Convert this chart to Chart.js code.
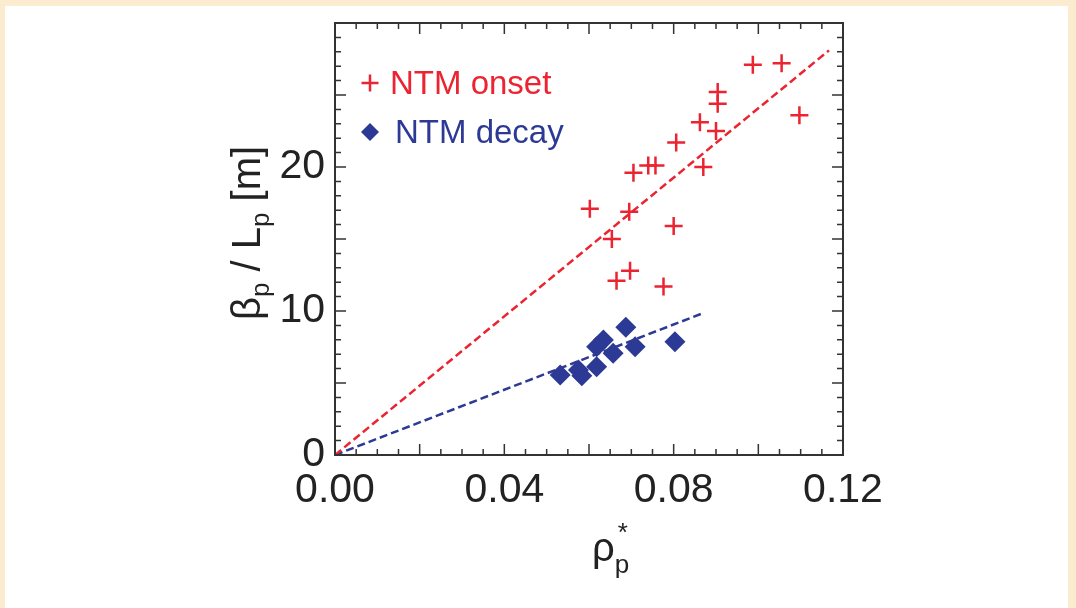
<!DOCTYPE html>
<html>
<head>
<meta charset="utf-8">
<script src="https://cdn.jsdelivr.net/npm/chart.js@4.4.1/dist/chart.umd.min.js"></script>
<style>
  html, body { margin: 0; padding: 0; }
  body { width: 1076px; height: 608px; background: #fbecd0; position: relative; overflow: hidden; }
  #panel { position: absolute; left: 5px; top: 6px; width: 1063px; height: 602px; background: #fff; }
  #wrap { position: absolute; left: 0; top: 0; width: 1076px; height: 608px; }
</style>
</head>
<body>
<div id="panel"></div>
<div id="wrap"><canvas id="chart" width="1076" height="608"></canvas></div>
<script>
// Data
const onsetRho  = [0.0987, 0.1055, 0.0904, 0.0904, 0.1097, 0.0862, 0.0900, 0.0806, 0.0740, 0.0757,
                   0.0705, 0.0870, 0.0602, 0.0695, 0.0800, 0.0654, 0.0697, 0.0665, 0.0776];
const onsetBeta = [27.1, 27.2, 25.2, 24.4, 23.6, 23.1, 22.5, 21.7, 20.1, 20.1,
                   19.6, 20.0, 17.1, 16.9, 15.9, 15.0, 12.8, 12.1, 11.7];

const decayRho  = [0.0687, 0.0803, 0.0709, 0.0634, 0.0618, 0.0657, 0.0618, 0.0575, 0.0583, 0.0532];
const decayBeta = [8.87, 7.87, 7.52, 7.99, 7.52, 7.06, 6.13, 5.90, 5.50, 5.56];

// Linear fits through the origin (end points)
const onsetFitRho  = [0, 0.1167];
const onsetFitBeta = [0, 28.1];
const decayFitRho  = [0, 0.0872];
const decayFitBeta = [0, 9.88];

// Axis ticks
const xTickLabels = [0, 0.04, 0.08, 0.12];
const yTickLabels = [0, 10, 20];

const RED = '#ec2330';
const BLUE = '#2d3a95';
const INK = '#222';
const SANS = "'Liberation Sans', Arial, sans-serif";
const numFont = { family: SANS, size: 41 };

const toPoints = (xs, ys) => xs.map((x, i) => ({ x: x, y: ys[i] }));

// Frame with inward ticks on all four sides
const framePlugin = {
    id: 'frame',
    afterDraw(chart) {
        const { ctx, chartArea: a, scales: { x, y } } = chart;
        ctx.save();
        ctx.strokeStyle = '#333';
        ctx.lineWidth = 2;
        ctx.strokeRect(a.left, a.top, a.right - a.left, a.bottom - a.top);
        ctx.lineWidth = 1.5;
        ctx.beginPath();
        for (let i = 1; i < 24; i++) {
            const px = x.getPixelForValue(i * 0.005);
            const len = i % 4 === 0 ? 11 : 6;
            ctx.moveTo(px, a.bottom); ctx.lineTo(px, a.bottom - len);
            ctx.moveTo(px, a.top); ctx.lineTo(px, a.top + len);
        }
        for (let j = 1; j < 30; j++) {
            const py = y.getPixelForValue(j);
            const len = j % 5 === 0 ? 11 : 6;
            ctx.moveTo(a.left, py); ctx.lineTo(a.left + len, py);
            ctx.moveTo(a.right, py); ctx.lineTo(a.right - len, py);
        }
        ctx.stroke();
        ctx.restore();
    }
};

// Legend inside the frame, top left
const legendPlugin = {
    id: 'insideLegend',
    afterDraw(chart) {
        const { ctx, chartArea: a } = chart;
        const rows = [0, 1].map(i => chart.data.datasets[i]);
        ctx.save();
        ctx.font = '33px ' + SANS;
        ctx.textBaseline = 'alphabetic';
        rows.forEach((ds, i) => {
            const cy = a.top + 60 + i * 49;
            ctx.fillStyle = ds.backgroundColor;
            ctx.strokeStyle = ds.borderColor;
            ctx.lineWidth = 2.5;
            Chart.helpers.drawPoint(ctx, {
                pointStyle: ds.pointStyle,
                radius: i === 0 ? 8.5 : 9,
                borderWidth: i === 0 ? 2.5 : 0,
                rotation: 0
            }, a.left + 35, cy);
            ctx.fillStyle = ds.borderColor;
            ctx.fillText(ds.label, a.left + (i === 0 ? 55 : 60), cy + 11);
        });
        ctx.restore();
    }
};

// Axis titles with sub/superscripts
function drawPieces(ctx, pieces, x0, y0, align) {
    const widths = pieces.map(p => { ctx.font = p.font; return ctx.measureText(p.t).width; });
    const total = widths.reduce((s, w) => s + w, 0);
    let cx = align === 'center' ? x0 - total / 2 : x0;
    pieces.forEach((p, i) => {
        ctx.font = p.font;
        ctx.fillText(p.t, cx + (p.dx || 0), y0 + (p.dy || 0));
        cx += p.adv === undefined ? widths[i] : p.adv;
    });
}

const titlePlugin = {
    id: 'axisTitles',
    afterDraw(chart) {
        const { ctx, chartArea: a } = chart;
        const big = '40px ' + SANS;
        const small = '26px ' + SANS;
        ctx.save();
        ctx.fillStyle = INK;
        ctx.textBaseline = 'alphabetic';
        // y title: beta_p / L_p [m]
        ctx.translate(a.left - 75, (a.top + a.bottom) / 2 - 6);
        ctx.rotate(-Math.PI / 2);
        drawPieces(ctx, [
            { t: 'β', font: big },
            { t: 'p', font: small, dy: 9 },
            { t: ' / L', font: big },
            { t: 'p', font: small, dy: 9 },
            { t: ' [m]', font: big }
        ], 0, 0, 'center');
        ctx.restore();
        // x title: rho_p^*
        ctx.save();
        ctx.fillStyle = INK;
        ctx.textBaseline = 'alphabetic';
        drawPieces(ctx, [
            { t: 'ρ', font: big },
            { t: 'p', font: small, dy: 12, adv: 0 },
            { t: '*', font: small, dx: 3, dy: -20 }
        ], 592, 561, 'left');
        ctx.restore();
    }
};

new Chart(document.getElementById('chart'), {
    type: 'scatter',
    data: {
        datasets: [
            {
                label: 'NTM onset',
                data: toPoints(onsetRho, onsetBeta),
                pointStyle: 'cross',
                pointRadius: 9,
                pointBorderWidth: 2.5,
                borderWidth: 2.5,
                borderColor: RED,
                backgroundColor: RED,
                order: 1
            },
            {
                label: 'NTM decay',
                data: toPoints(decayRho, decayBeta),
                pointStyle: 'rectRot',
                pointRadius: 10.5,
                borderWidth: 0,
                borderColor: BLUE,
                backgroundColor: BLUE,
                order: 2
            },
            {
                type: 'line',
                label: 'onset fit',
                data: toPoints(onsetFitRho, onsetFitBeta),
                borderColor: RED,
                borderWidth: 2.5,
                borderDash: [8, 4],
                pointRadius: 0,
                fill: false,
                order: 3
            },
            {
                type: 'line',
                label: 'decay fit',
                data: toPoints(decayFitRho, decayFitBeta),
                borderColor: BLUE,
                borderWidth: 2.5,
                borderDash: [8, 4],
                pointRadius: 0,
                fill: false,
                order: 3
            }
        ]
    },
    options: {
        responsive: false,
        devicePixelRatio: 1,
        animation: false,
        layout: { padding: { left: 0, right: 233, top: 23, bottom: 0 } },
        plugins: {
            tooltip: { enabled: false },
            legend: { display: false }
        },
        scales: {
            x: {
                type: 'linear',
                min: 0,
                max: 0.12,
                afterBuildTicks: s => { s.ticks = xTickLabels.map(v => ({ value: v })); },
                afterFit: s => { s.height = 153; s.paddingLeft = 0; s.paddingRight = 0; },
                grid: { display: false, drawTicks: false },
                border: { display: false },
                ticks: {
                    autoSkip: false,
                    maxRotation: 0,
                    padding: 11,
                    color: INK,
                    font: numFont,
                    callback: v => Number(v).toFixed(2)
                }
            },
            y: {
                type: 'linear',
                min: 0,
                max: 30,
                afterBuildTicks: s => { s.ticks = yTickLabels.map(v => ({ value: v })); },
                afterFit: s => { s.width = 335; s.paddingTop = 0; s.paddingBottom = 0; },
                grid: { display: false, drawTicks: false },
                border: { display: false },
                ticks: {
                    autoSkip: false,
                    padding: 10,
                    color: INK,
                    font: numFont,
                    callback: v => String(v)
                }
            }
        }
    },
    plugins: [framePlugin, legendPlugin, titlePlugin]
});
</script>
</body>
</html>
